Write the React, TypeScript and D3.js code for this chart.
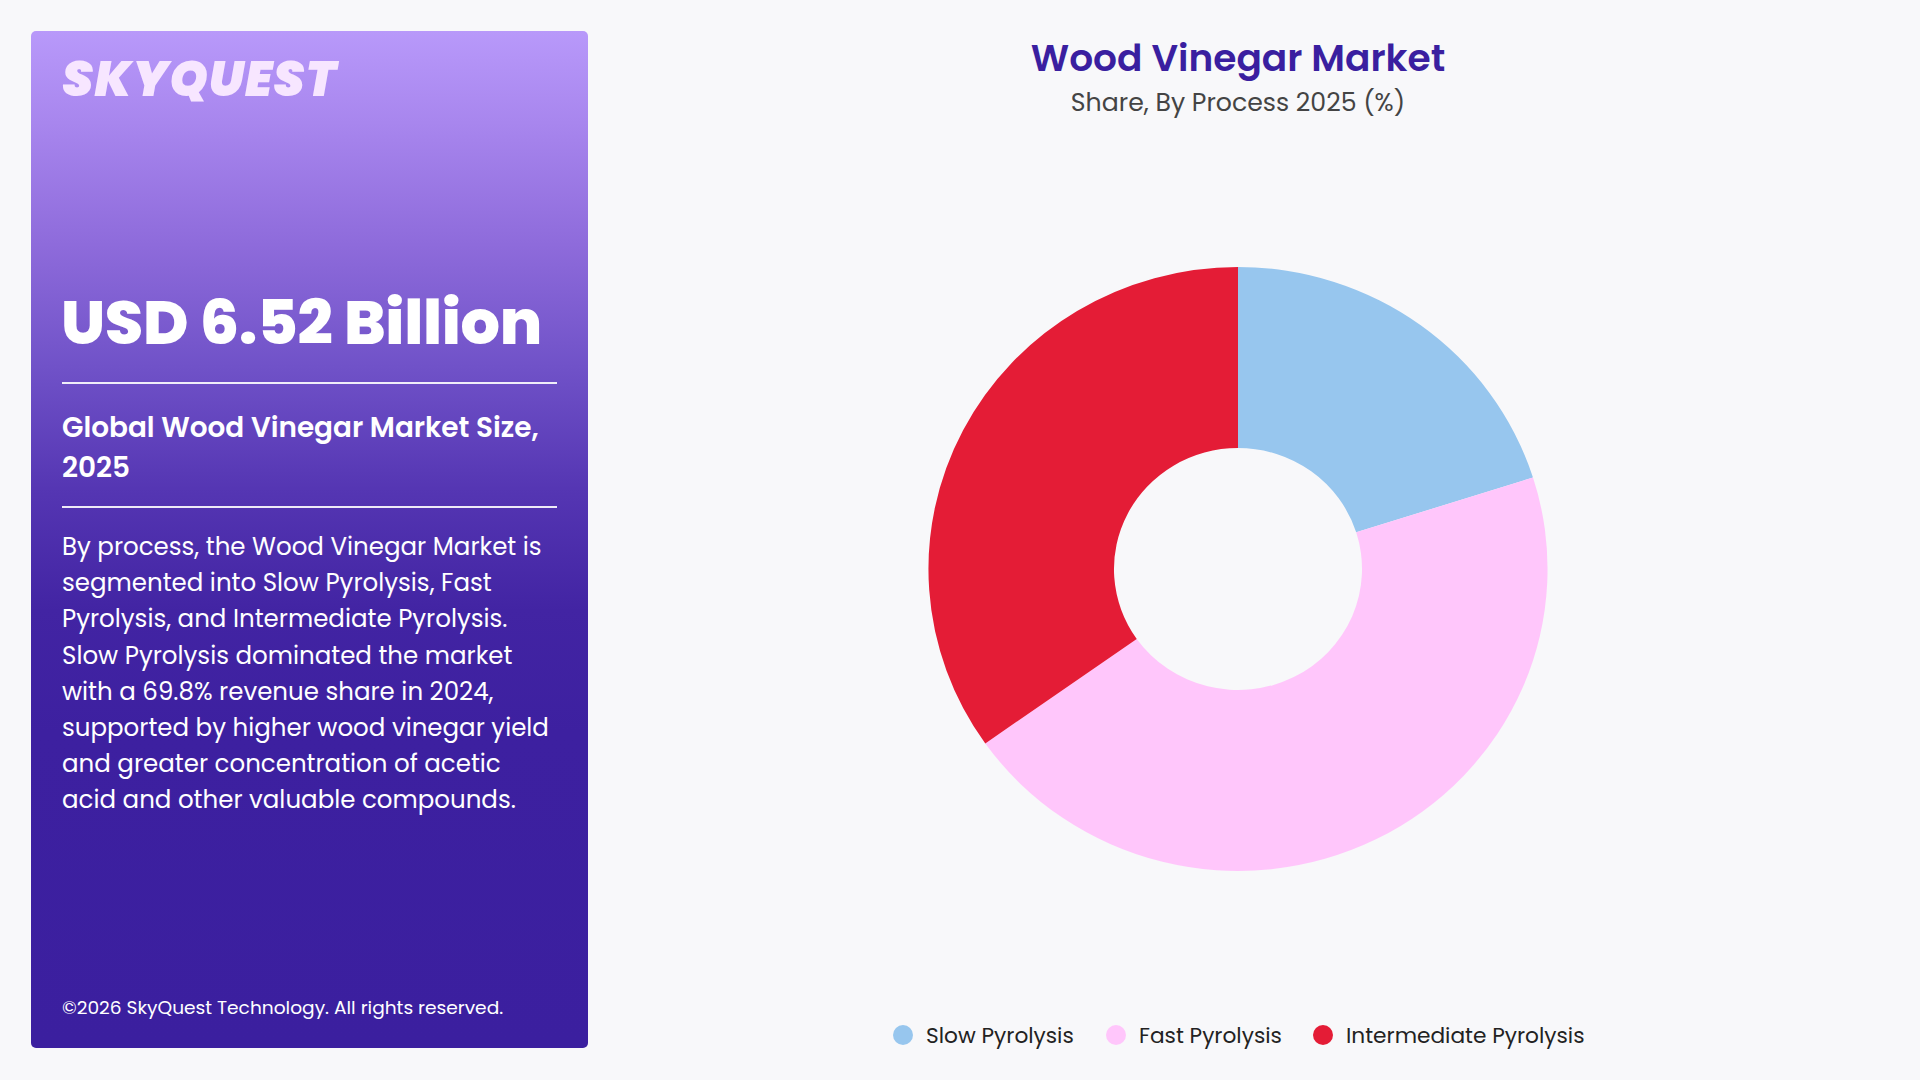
import { useMemo } from 'react';
import * as d3 from 'd3';

// share by process, 2025 (%)
const processes = ['Slow Pyrolysis', 'Fast Pyrolysis', 'Intermediate Pyrolysis'];
const shares = [20.1, 45.1, 34.8];
const colors = ['#97c6ee', '#ffc6fb', '#e41c36'];

const paragraph = [
  'By process, the Wood Vinegar Market is',
  'segmented into Slow Pyrolysis, Fast',
  'Pyrolysis, and Intermediate Pyrolysis.',
  'Slow Pyrolysis dominated the market',
  'with a 69.8% revenue share in 2024,',
  'supported by higher wood vinegar yield',
  'and greater concentration of acetic',
  'acid and other valuable compounds.',
];

const FONT = 'Poppins, Inter, "Open Sans", sans-serif';

export default function App() {
  const W = 1920;
  const H = 1080;
  const cx = 1238;
  const cy = 569;
  const outerR = 302;
  const innerR = 121;

  const arcs = useMemo(() => {
    const pie = d3.pie<number>().sort(null).value(d => d);
    return pie(shares);
  }, []);

  const arcGen = d3.arc<d3.PieArcDatum<number>>().innerRadius(innerR).outerRadius(outerR);

  // legend layout
  const legendX = d3.scaleOrdinal<string, number>().domain(processes).range([903, 1116, 1323]);

  return (
    <svg
      width={W}
      height={H}
      style={{ position: 'absolute', top: 0, left: 0, display: 'block' }}
      fontFamily={FONT}
    >
      <defs>
        <linearGradient id="panelGrad" x1="0" y1="0" x2="0" y2="1">
          <stop offset="0" stopColor="#b899fa" />
          <stop offset="0.09" stopColor="#a886ee" />
          <stop offset="0.21" stopColor="#8e6bdb" />
          <stop offset="0.33" stopColor="#7052c8" />
          <stop offset="0.45" stopColor="#5536b3" />
          <stop offset="0.57" stopColor="#4224a3" />
          <stop offset="0.69" stopColor="#3d20a0" />
          <stop offset="1" stopColor="#3b1f9f" />
        </linearGradient>
      </defs>
      <rect width={W} height={H} fill="#f8f8fa" />

      {/* left info panel */}
      <rect x={31} y={31} width={557} height={1017} rx={5} fill="url(#panelGrad)" />
      <text x={62} y={96} fill="#f7e6ff" fontSize={49} fontWeight={900} fontStyle="italic" letterSpacing={1}>
        SKYQUEST
      </text>
      <text x={61} y={344} fill="#fff" fontSize={62} fontWeight={800} letterSpacing={-0.3}>
        USD 6.52 Billion
      </text>
      <line x1={62} x2={557} y1={383} y2={383} stroke="#fff" strokeWidth={2} opacity={0.9} />
      <text x={62} y={437} fill="#fff" fontSize={27.9} fontWeight={600}>
        Global Wood Vinegar Market Size,
      </text>
      <text x={62} y={477} fill="#fff" fontSize={27.9} fontWeight={600}>
        2025
      </text>
      <line x1={62} x2={557} y1={507} y2={507} stroke="#fff" strokeWidth={2} opacity={0.9} />
      {paragraph.map((l, i) => (
        <text key={i} x={62} y={555 + i * 36.2} fill="#fff" fontSize={24.5}>
          {l}
        </text>
      ))}
      <text x={62} y={1014} fill="#fff" fontSize={18.6}>
        ©2026 SkyQuest Technology. All rights reserved.
      </text>

      {/* titles */}
      <text x={cx} y={71} textAnchor="middle" fill="#3a1fa0" fontSize={37.5} fontWeight={600}>
        Wood Vinegar Market
      </text>
      <text x={cx} y={111} textAnchor="middle" fill="#444" fontSize={25.2}>
        Share, By Process 2025 (%)
      </text>

      {/* donut (slightly wider than tall, as in the reference) */}
      <g transform={`translate(${cx},${cy}) scale(1.025,1)`}>
        {arcs.map((a, i) => (
          <path key={processes[i]} d={arcGen(a) || ''} fill={colors[i]} />
        ))}
      </g>

      {/* legend */}
      {processes.map((p, i) => (
        <g key={p} transform={`translate(${legendX(p)},1035)`}>
          <circle r={10} fill={colors[i]} />
          <text x={23} y={8} fill="#222" fontSize={21.7}>
            {p}
          </text>
        </g>
      ))}
    </svg>
  );
}
